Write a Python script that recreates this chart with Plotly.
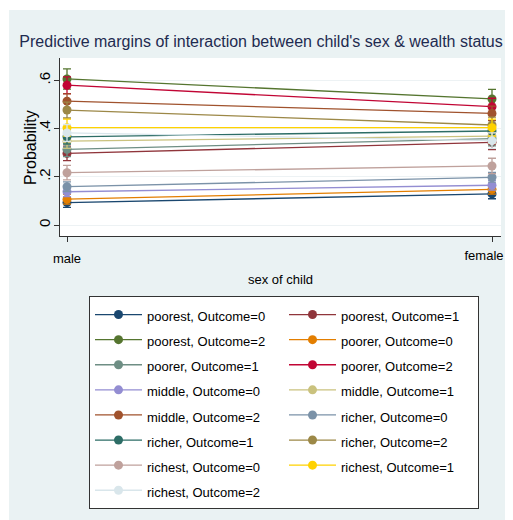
import plotly.graph_objects as go

# ---------------- data ----------------
sex_labels = ["male", "female"]
sex_pos = [0, 1]

series_names = [
    "poorest, Outcome=0", "poorest, Outcome=1", "poorest, Outcome=2",
    "poorer, Outcome=0", "poorer, Outcome=1", "poorer, Outcome=2",
    "middle, Outcome=0", "middle, Outcome=1", "middle, Outcome=2",
    "richer, Outcome=0", "richer, Outcome=1", "richer, Outcome=2",
    "richest, Outcome=0", "richest, Outcome=1", "richest, Outcome=2",
]
male_values = [0.093, 0.297, 0.606, 0.107, 0.314, 0.580, 0.138, 0.348, 0.514,
               0.159, 0.366, 0.477, 0.217, 0.404, 0.382]
female_values = [0.129, 0.343, 0.523, 0.148, 0.358, 0.491, 0.165, 0.369, 0.463,
                 0.198, 0.390, 0.415, 0.245, 0.404, 0.350]
male_ci = [0.020, 0.030, 0.042, 0.020, 0.030, 0.035, 0.020, 0.030, 0.030,
           0.020, 0.030, 0.033, 0.030, 0.035, 0.035]
female_ci = [0.020, 0.030, 0.040, 0.020, 0.030, 0.035, 0.020, 0.030, 0.030,
             0.020, 0.030, 0.033, 0.032, 0.035, 0.032]

y_tickvals = [0, 0.2, 0.4, 0.6]
y_ticktext = ["0", ".2", ".4", ".6"]

colors = ["#1a476f", "#90353b", "#55752f", "#e37e00", "#6e8e84", "#c10534",
          "#938dd2", "#cac27e", "#a0522d", "#7b92a8", "#2d6d66", "#9c8847",
          "#bfa19c", "#ffd200", "#d9e6eb"]

FONT = "Liberation Sans, Arial, sans-serif"
PANEL = "#eaf2f3"

# figure sits inside the page's 8px body margin
OFF = 8
W, H = 513 - OFF, 520 - OFF
ML, MR, MT = 60 - OFF, 513 - 501, 58 - OFF
MB = H - (236 - OFF)
pw, ph = W - ML - MR, H - MT - MB

fig = go.Figure()
for i, name in enumerate(series_names):
    fig.add_trace(go.Scatter(
        x=sex_pos,
        y=[male_values[i], female_values[i]],
        mode="lines+markers",
        name='<span style="font-size:13px">' + name + '</span>',
        line=dict(color=colors[i], width=1.3),
        marker=dict(color=colors[i], size=9),
        error_y=dict(type="data", array=[male_ci[i], female_ci[i]],
                     color=colors[i], thickness=1.3, width=4),
    ))

def px_x(px):  # page pixel -> paper coord
    return (px - OFF - ML) / pw

def px_y(py):
    return (H - MB - (py - OFF)) / ph

shapes = [
    dict(type="rect", xref="paper", yref="paper", x0=px_x(OFF), x1=px_x(513),
         y0=px_y(10), y1=px_y(OFF), fillcolor="white", line_width=0, layer="below"),
    dict(type="rect", xref="paper", yref="paper", x0=px_x(OFF), x1=px_x(9),
         y0=px_y(520), y1=px_y(OFF), fillcolor="white", line_width=0, layer="below"),
]

annotations = [
    dict(text="Probability", xref="paper", yref="paper",
         x=px_x(30), y=0.5, xanchor="center", yanchor="middle",
         textangle=-90, showarrow=False, font=dict(family=FONT, size=16, color="black")),
]

xrange = [-7 / 425, 1 + 9 / 425]

fig.update_layout(
    width=W, height=H,
    margin=dict(l=ML, r=MR, t=MT, b=MB, autoexpand=False),
    paper_bgcolor=PANEL,
    plot_bgcolor="white",
    font=dict(family=FONT, size=13, color="black"),
    title=dict(
        text="Predictive margins of interaction between child's sex & wealth status",
        x=(261 - OFF) / W, xanchor="center", xref="container",
        y=1 - (41 - OFF) / H, yanchor="middle", yref="container",
        font=dict(family=FONT, size=16, color="#1e2b50"),
    ),
    xaxis=dict(
        range=xrange,
        tickvals=sex_pos, ticktext=[sex_labels[0], ""],
        ticks="outside", ticklen=5, tickcolor="#333",
        showline=True, linecolor="#333", linewidth=1,
        showgrid=False, zeroline=False,
        ticklabelstandoff=5,
        title=dict(text="sex of child", standoff=10, font=dict(size=13)),
        tickfont=dict(size=13),
    ),
    xaxis2=dict(
        overlaying="x", matches="x", side="bottom", anchor="y",
        tickvals=sex_pos[1:], ticktext=sex_labels[1:],
        ticks="", showline=False, showgrid=False, zeroline=False,
        ticklabelstandoff=10, ticklabelshift=-8,
        tickfont=dict(size=13),
    ),
    yaxis=dict(
        range=[(236 - 225) / -241.0, (225 - 58) / 241.0],
        tickvals=y_tickvals, ticktext=y_ticktext, tickangle=-90,
        ticks="outside", ticklen=5, tickcolor="#333",
        showline=True, linecolor="#333", linewidth=1,
        showgrid=True, gridcolor="#edf2f4", gridwidth=1,
        zeroline=False,
        ticklabelstandoff=-2,
        tickfont=dict(size=15),
    ),
    legend=dict(
        orientation="h",
        x=px_x(89), xanchor="left",
        y=px_y(296), yanchor="top",
        bgcolor="white", bordercolor="#333", borderwidth=1,
        entrywidth=132, entrywidthmode="pixels",
        itemwidth=47,
        font=dict(family=FONT, size=17, color="black"),
        traceorder="normal",
    ),
    shapes=shapes,
    annotations=annotations,
    showlegend=True,
)

# an invisible helper trace so the second x axis (female label) is drawn
fig.add_trace(go.Scatter(x=[None], y=[None], xaxis="x2", yaxis="y",
                         showlegend=False, hoverinfo="skip"))

fig.write_html("out.html")
